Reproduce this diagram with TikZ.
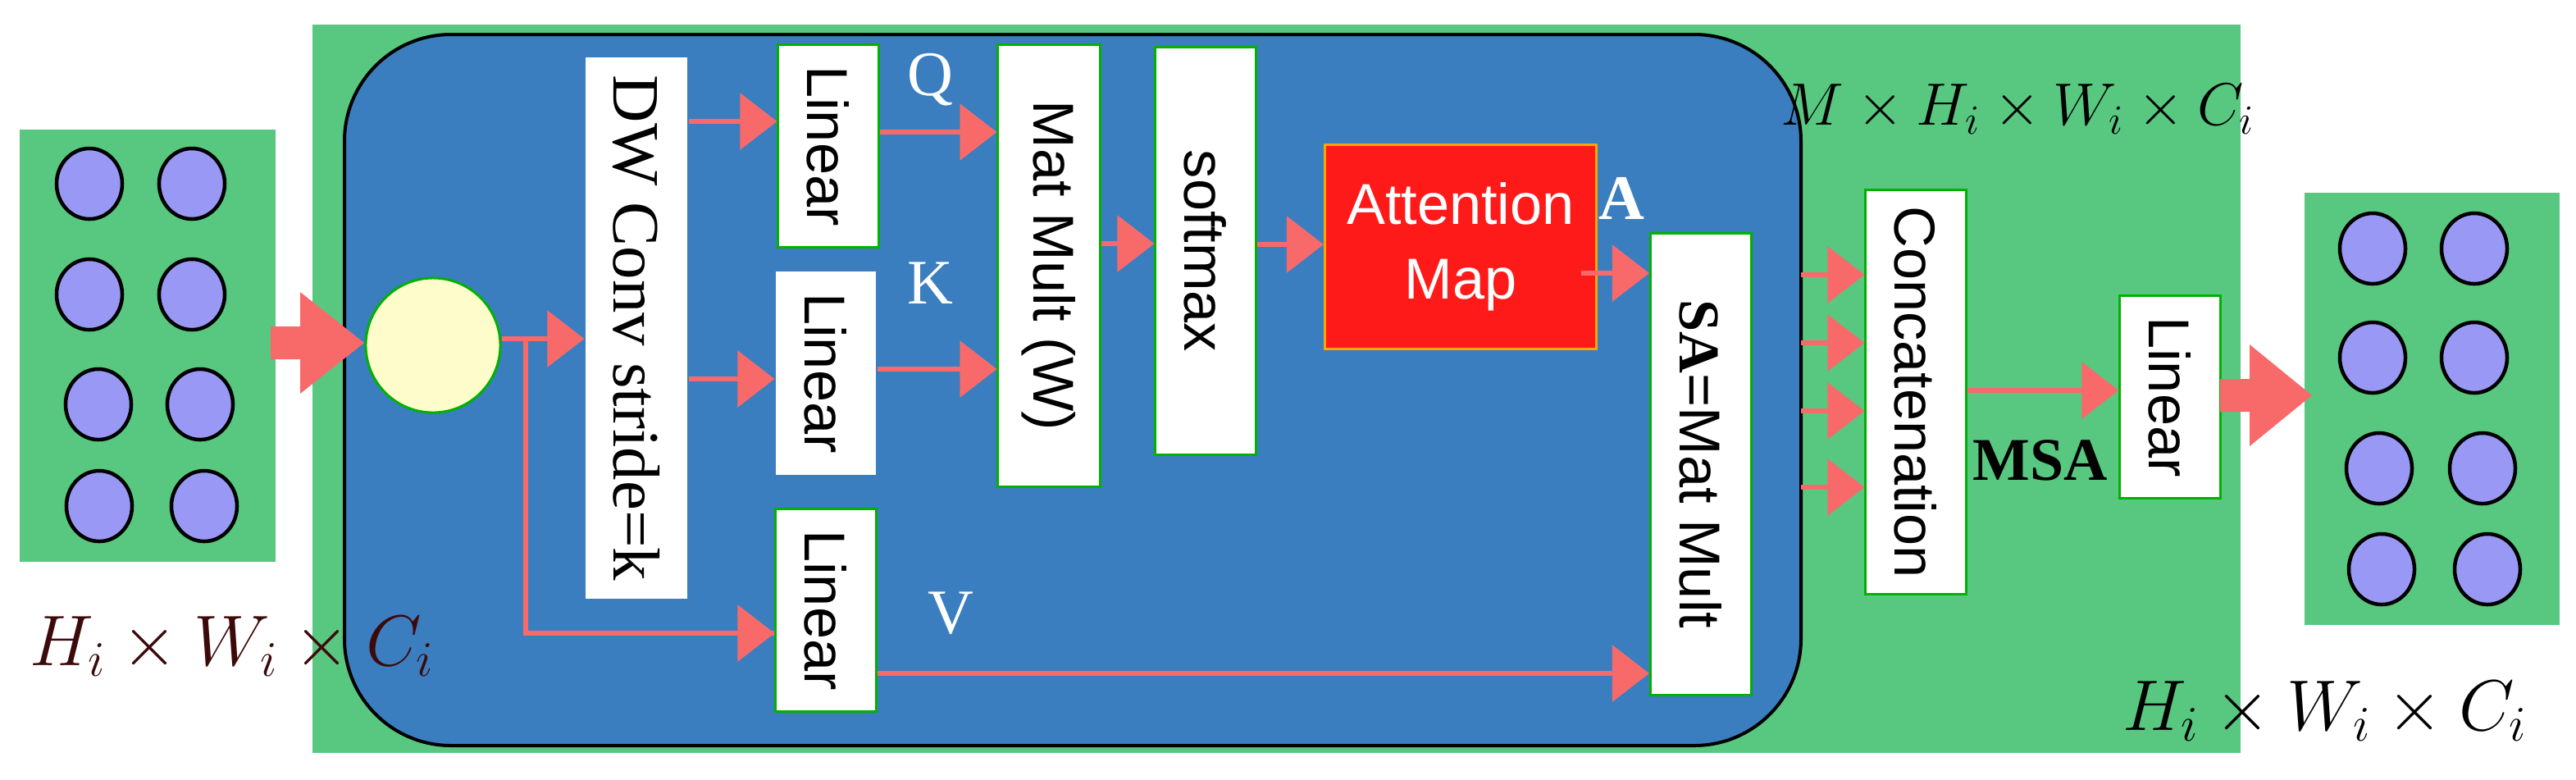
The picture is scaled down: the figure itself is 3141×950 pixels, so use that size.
\documentclass[tikz,border=0pt]{standalone}
\usepackage{fontspec}
\setmainfont{Liberation Serif}
\newfontfamily\sansfont{Liberation Sans}
\usetikzlibrary{arrows.meta,shapes.geometric}
\definecolor{boxgreen}{RGB}{88,199,128}
\definecolor{boxblue}{RGB}{58,126,192}
\definecolor{arrowpink}{RGB}{248,106,106}
\definecolor{mapred}{RGB}{255,26,26}
\definecolor{dotblue}{RGB}{153,153,245}
\definecolor{dimbrown}{RGB}{61,10,10}
\begin{document}
\begin{tikzpicture}[x=0.01cm,y=-0.01cm,
  block_style/.style={draw=green!70!black,line width=0.03cm,fill=white,inner sep=0pt,
    font=\sansfont\fontsize{20}{24}\selectfont},
  dot_style/.style={ellipse,draw=black,line width=0.045cm,fill=dotblue,minimum width=0.8cm,minimum height=0.86cm,inner sep=0pt},
  arrow_style/.style={draw=arrowpink,line width=0.06cm,-{Triangle[length=0.45cm,width=0.68cm]}},
  label_style/.style={font=\fontsize{22}{26}\selectfont}]
\useasboundingbox (0,0) rectangle (3141,950);
% panels
\fill[boxgreen] (381,30) rectangle (2732,918);
\fill[boxgreen] (24,158) rectangle (336,685);
\fill[boxgreen] (2810,235) rectangle (3121,762);
\draw[fill=boxblue,line width=0.04cm,rounded corners=1.3cm] (420,42) rectangle (2196,909);
% input and output points
\foreach \px/\py in {109/224,234/224,109/359,234/359,120/493,244/493,121/617,249/617,
                     2893/303,3017/303,2893/436,3017/436,2901/571,3027/571,2904/694,3033/694}
  \node[dot_style] at (\px,\py) {};
% blocks
\node[circle,draw=green!70!black,line width=0.03cm,fill=yellow!20,minimum size=1.64cm] (norm) at (528,421) {};
\node[block_style,draw=none,minimum width=1.24cm,minimum height=6.59cm,font=\fontsize{23}{26}\selectfont] (dw) at (776,400) {\rotatebox{-90}{DW Conv stride=k}};
\node[block_style,minimum width=1.22cm,minimum height=2.47cm] (lq) at (1010,178) {\rotatebox{-90}{Linear}};
\node[block_style,draw=none,minimum width=1.22cm,minimum height=2.47cm] (lk) at (1007,455) {\rotatebox{-90}{Linear}};
\node[block_style,minimum width=1.22cm,minimum height=2.47cm] (lv) at (1007,744) {\rotatebox{-90}{Linear}};
\node[block_style,minimum width=1.24cm,minimum height=5.39cm] (mm) at (1279,324) {\rotatebox{-90}{Mat Mult (W)}};
\node[block_style,minimum width=1.22cm,minimum height=4.97cm] (sm) at (1470,306) {\rotatebox{-90}{softmax}};
\node[draw=orange!70!yellow,line width=0.03cm,fill=mapred,text=white,minimum width=3.31cm,minimum height=2.49cm,
  align=center,font=\sansfont\fontsize{20}{26}\selectfont] (att) at (1781,301) {Attention\\Map};
\node[block_style,minimum width=1.23cm,minimum height=5.62cm] (sa) at (2074,566) {\rotatebox{-90}{{\rmfamily\bfseries SA}=Mat Mult}};
\node[block_style,minimum width=1.22cm,minimum height=4.93cm] (cat) at (2336,478) {\rotatebox{-90}{Concatenation}};
\node[block_style,minimum width=1.22cm,minimum height=2.46cm] (lo) at (2646,484) {\rotatebox{-90}{Linear}};
% labels
\node[label_style,text=white] (lbq) at (1134,97) {Q};
\node[label_style,text=white] (lbk) at (1134,345) {K};
\node[label_style,text=white] (lbv) at (1159,748) {V};
\node[label_style,text=white,font=\bfseries\fontsize{22}{26}\selectfont] (lba) at (1977,242) {A};
\node[label_style,font=\bfseries\fontsize{21}{26}\selectfont] (lbmsa) at (2488,561) {MSA};
\node[text=dimbrown,font=\fontsize{27}{30}\selectfont] (dimin) at (283,788) {$H_i\times W_i\times C_i$};
\node[font=\fontsize{22}{26}\selectfont] (dimm) at (2460,133) {$M\times H_i\times W_i\times C_i$};
\node[font=\fontsize{27}{30}\selectfont] (dimout) at (2835,867) {$H_i\times W_i\times C_i$};
% fat arrows
\fill[arrowpink] (330,398) -- (366,398) -- (366,356) -- (444,418) -- (366,480) -- (366,438) -- (330,438) -- cycle;
\fill[arrowpink] (2707,462) -- (2743,462) -- (2743,420) -- (2819,482) -- (2743,544) -- (2743,502) -- (2707,502) -- cycle;
% connectors
\coordinate (split) at (641,413);
\coordinate (yq) at (0,148);
\coordinate (yk) at (0,462);
\draw[arrow_style] (norm.east |- split) -- (dw.west |- split);
\draw[draw=arrowpink,line width=0.06cm] (split) |- (lv.west |- 0,772);
\draw[arrow_style] (split |- 0,772) -- (lv.west |- 0,772);
\draw[arrow_style] (dw.east |- yq) -- (lq.west |- yq);
\draw[arrow_style] (dw.east |- yk) -- (lk.west |- yk);
\draw[arrow_style] (lq.east |- 0,161) -- (mm.west |- 0,161);
\draw[arrow_style] (lk.east |- 0,450) -- (mm.west |- 0,450);
\draw[arrow_style] (lv.east |- 0,821) -- (sa.west |- 0,821);
\draw[arrow_style] (mm.east |- 0,297) -- (sm.west |- 0,297);
\draw[arrow_style] (sm.east |- 0,298) -- (att.west |- 0,298);
\draw[arrow_style] ([xshift=-0.2cm]att.east |- 0,333) -- (sa.west |- 0,333);
\foreach \hy in {335,418,501,594}
  \draw[arrow_style] (2196,\hy) -- (cat.west |- 0,\hy);
\draw[arrow_style] (cat.east |- 0,476) -- (lo.west |- 0,476);
\end{tikzpicture}
\end{document}
